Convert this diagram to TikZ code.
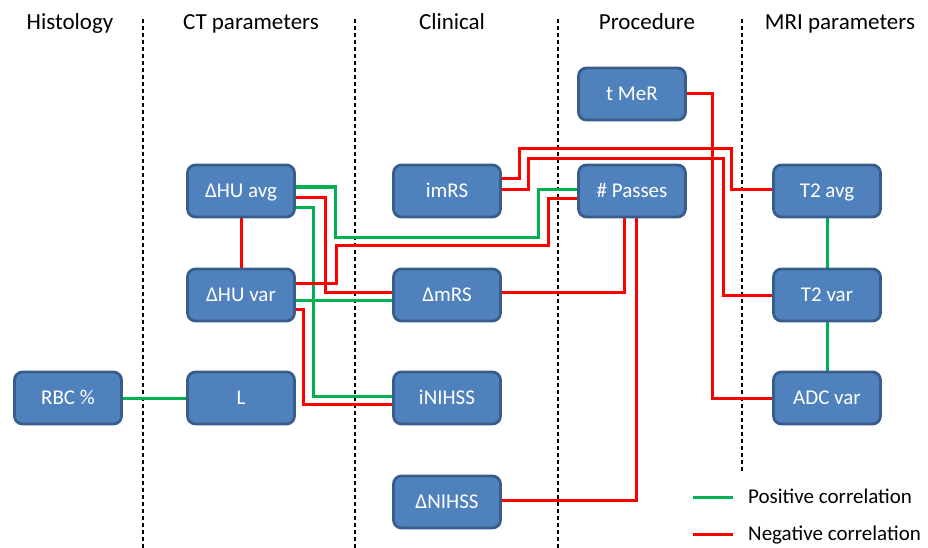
\documentclass[tikz,border=0pt]{standalone}
\usepackage{fontspec}
\setmainfont{Carlito}
\usetikzlibrary{backgrounds}
\definecolor{boxfill}{HTML}{4F81BD}
\definecolor{boxline}{HTML}{385D8A}
\definecolor{posgreen}{HTML}{00B050}
\definecolor{negred}{HTML}{FF0000}
\begin{document}
\begin{tikzpicture}[x=1pt,y=-1pt,
  box/.style={draw=boxline, fill=boxfill, line width=2.8pt, rounded corners=8pt,
    minimum width=107pt, minimum height=52pt, inner sep=0pt, text=white,
    text height=13.5pt, text depth=0pt, font=\fontsize{21}{25}\selectfont},
  hdr/.style={font=\fontsize{23}{27}\selectfont, inner sep=0pt, anchor=base},
  legtext/.style={font=\fontsize{21}{25}\selectfont, inner sep=0pt, anchor=west, text height=13.5pt, text depth=0pt},
  sepline/.style={line width=1.4pt, dash pattern=on 4pt off 3pt},
  posline/.style={draw=posgreen, line width=3pt},
  negline/.style={draw=negred, line width=3pt},
]
\useasboundingbox (0,0) rectangle (928,548);

% headers
\node[hdr] (h1) at (70,30) {Histology};
\node[hdr] (h2) at (251,30) {CT parameters};
\node[hdr] (h3) at (452,30) {Clinical};
\node[hdr] (h4) at (647,30) {Procedure};
\node[hdr] (h5) at (840,30) {MRI parameters};

% boxes
\node[box] (rbc)  at (68,398)  {RBC \%};
\node[box] (L)    at (241,398) {L};
\node[box] (hua)  at (241,191) {ΔHU avg};
\node[box] (huv)  at (241,295) {ΔHU var};
\node[box] (imrs) at (447,191) {imRS};
\node[box] (dmrs) at (447,295) {ΔmRS};
\node[box] (inih) at (447,398) {iNIHSS};
\node[box] (dnih) at (447,502) {ΔNIHSS};
\node[box] (tmer) at (632,94)  {t MeR};
\node[box] (pas)  at (632,191) {\# Passes};
\node[box] (t2a)  at (827,191) {T2 avg};
\node[box] (t2v)  at (827,295) {T2 var};
\node[box] (adc)  at (827,398) {ADC var};

% legend
\coordinate (lp1) at (693,497);
\coordinate (lp2) at (733,497);
\coordinate (ln1) at (693,534);
\coordinate (ln2) at (733,534);
\node[legtext] (lpt) at (748,497) {Positive correlation};
\node[legtext] (lnt) at (748,534) {Negative correlation};

\begin{scope}[on background layer]
  % separators
  \coordinate (s1a) at (143,19);  \coordinate (s1b) at (143,548);
  \coordinate (s2a) at (355,19);  \coordinate (s2b) at (355,548);
  \coordinate (s3a) at (558,19);  \coordinate (s3b) at (558,548);
  \coordinate (s4a) at (742,19);  \coordinate (s4b) at (742,473);
  \draw[sepline] (s1a) -- (s1b);
  \draw[sepline] (s2a) -- (s2b);
  \draw[sepline] (s3a) -- (s3b);
  \draw[sepline] (s4a) -- (s4b);

  % legend lines
  \draw[posline] (lp1) -- (lp2);
  \draw[negline] (ln1) -- (ln2);

  % connectors
  \draw[posline] (rbc) -- (L);
  \draw[negline] (hua) -- (huv);
  \draw[posline] (t2a) -- (t2v);
  \draw[posline] (t2v) -- (adc);

  \draw[posline] ([yshift=4pt]hua.east) -| (335,237) -| (538,189) -- ([yshift=2pt]pas.west);
  \draw[negline] ([yshift=-6pt]hua.east) -| (325,292) -- ([yshift=3pt]dmrs.west);
  \draw[posline] ([yshift=-16pt]hua.east) -| (313,396) -- ([yshift=2pt]inih.west);

  \draw[negline] ([yshift=12pt]huv.east) -| (336,245) -| (548,198) -- ([yshift=-7pt]pas.west);
  \draw[posline] ([yshift=-5pt]huv.east) -- ([yshift=-5pt]dmrs.west);
  \draw[negline] ([yshift=-14pt]huv.east) -| (303,404) -- ([yshift=-6pt]inih.west);

  \draw[negline] ([yshift=12pt]imrs.east) -| (519,149) -| (731,189) -- ([yshift=2pt]t2a.west);
  \draw[negline] ([yshift=2pt]imrs.east) -| (528,159) -| (723,295) -- (t2v.west);
  \draw[negline] (tmer.east) -| (712,398) -- (adc.west);

  \draw[negline] ([yshift=3pt]dmrs.east) -| ([xshift=-8pt]pas.south);
  \draw[negline] ([yshift=2pt]dnih.east) -| ([xshift=4pt]pas.south);
\end{scope}
\end{tikzpicture}
\end{document}
